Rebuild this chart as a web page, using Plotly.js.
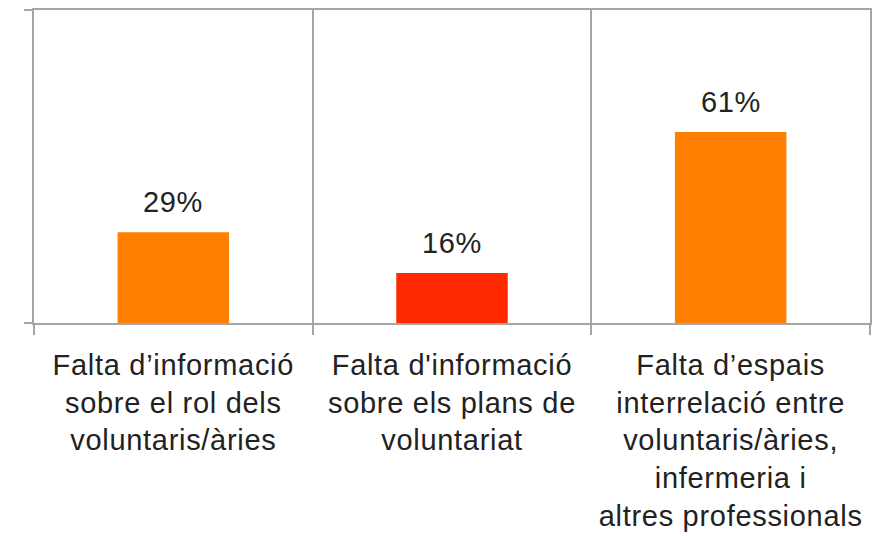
<!DOCTYPE html>
<html>
<head>
<meta charset="utf-8">
<script src="https://cdn.plot.ly/plotly-3.0.1.min.js"></script>
<style>
  html, body { margin: 0; padding: 0; background: #fff; }
  #chart { width: 888px; height: 536px; }
  #chart text { letter-spacing: 0.7px; }
</style>
</head>
<body>
<div id="chart"></div>
<script>
var categories = [
  'Falta d’informació<br>sobre el rol dels<br>voluntaris/àries',
  'Falta d\'informació<br>sobre els plans de<br>voluntariat',
  'Falta d’espais<br>interrelació entre<br>voluntaris/àries,<br>infermeria i<br>altres professionals'
];
var values = [29, 16, 61];
var barColors = ['#ff7f00', '#ff2a00', '#ff7f00'];

var gridGrey = '#a6a6a6';
var textFont = {family: '"Helvetica Neue", "Liberation Sans", Arial, sans-serif', size: 29, color: '#222222'};

var trace = {
  x: categories,
  y: values,
  type: 'bar',
  marker: {color: barColors, line: {width: 0}},
  hoverinfo: 'none'
};

var labels = values.map(function (v, i) {
  return {
    x: categories[i],
    y: v,
    text: v + '%',
    showarrow: false,
    yanchor: 'bottom',
    yshift: 12,
    font: textFont
  };
});

var layout = {
  width: 888,
  height: 536,
  margin: {l: 34, r: 18, t: 10, b: 213},
  paper_bgcolor: '#ffffff',
  plot_bgcolor: '#ffffff',
  showlegend: false,
  bargap: 0.6,
  font: textFont,
  xaxis: {
    type: 'category',
    tickson: 'boundaries',
    ticks: 'outside',
    ticklen: 10,
    tickwidth: 2,
    tickcolor: gridGrey,
    ticklabelstandoff: 15,
    showgrid: true,
    gridcolor: gridGrey,
    gridwidth: 2,
    showline: true,
    mirror: true,
    linecolor: gridGrey,
    linewidth: 2,
    tickfont: textFont,
    fixedrange: true
  },
  yaxis: {
    range: [0, 100],
    dtick: 100,
    tick0: 0,
    ticks: 'outside',
    ticklen: 8,
    tickwidth: 2,
    tickcolor: gridGrey,
    showticklabels: false,
    showgrid: true,
    gridcolor: gridGrey,
    gridwidth: 2,
    zeroline: false,
    showline: true,
    mirror: true,
    linecolor: gridGrey,
    linewidth: 2,
    fixedrange: true
  },
  annotations: labels
};

Plotly.newPlot('chart', [trace], layout, {displayModeBar: false, staticPlot: true});
</script>
</body>
</html>
